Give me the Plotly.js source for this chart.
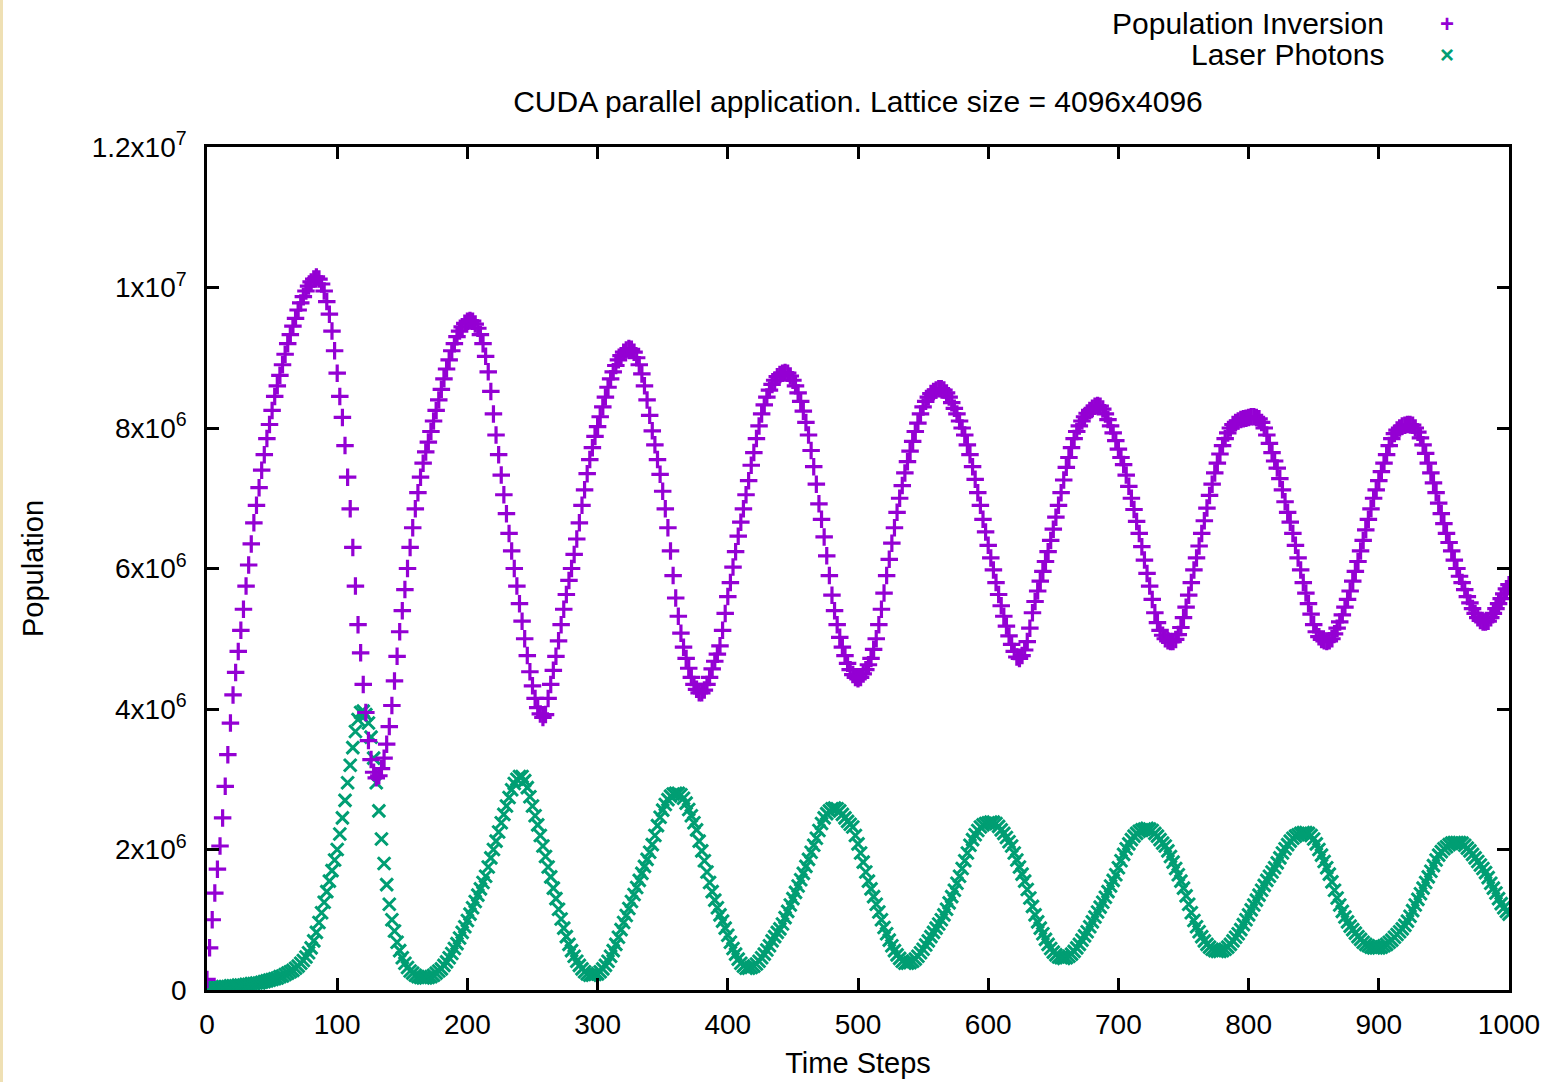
<!DOCTYPE html>
<html>
<head>
<meta charset="utf-8">
<script src="https://cdn.plot.ly/plotly-3.0.1.min.js"></script>
<style>
  html, body { margin: 0; padding: 0; background: #ffffff; }
  body { background: linear-gradient(to right, #EFE0B4 0px, #EFE0B4 3px, #ffffff 3px); }
  #chart { width: 1550px; height: 1082px; }
</style>
</head>
<body>
<div id="chart"></div>
<script>
// ---- Data (values in units of 10^6), one sample every TIME_STEP time steps, from 0 to 1000 ----
const TIME_STEP = 2;
const FIRST_STEP = 0;

const seriesNames = ["Population Inversion", "Laser Photons"];

const populationInversionM = [
  0.15, 0.6, 1.0, 1.38, 1.72, 2.05, 2.45, 2.9, 3.35, 3.8,
  4.2, 4.52, 4.82, 5.12, 5.42, 5.75, 6.05, 6.35, 6.65, 6.9,
  7.15, 7.4, 7.62, 7.85, 8.05, 8.25, 8.45, 8.6, 8.75, 8.9,
  9.05, 9.2, 9.33, 9.45, 9.56, 9.68, 9.78, 9.87, 9.95, 10.02,
  10.08, 10.12, 10.15, 10.12, 10.05, 9.95, 9.8, 9.62, 9.38, 9.1,
  8.78, 8.45, 8.15, 7.75, 7.3, 6.85, 6.3, 5.75, 5.2, 4.8,
  4.35, 3.95, 3.55, 3.28, 3.1, 3.02, 3.05, 3.15, 3.3, 3.5,
  3.75, 4.05, 4.4, 4.75, 5.1, 5.4, 5.7, 6.0, 6.3, 6.58,
  6.85, 7.08, 7.3, 7.5, 7.66, 7.8, 7.95, 8.1, 8.25, 8.4,
  8.55, 8.7, 8.84, 8.97, 9.1, 9.2, 9.3, 9.38, 9.44, 9.49,
  9.52, 9.53, 9.52, 9.48, 9.42, 9.33, 9.2, 9.02, 8.8, 8.52,
  8.2, 7.9, 7.62, 7.33, 7.05, 6.78, 6.5, 6.25, 6.0, 5.75,
  5.5, 5.25, 5.0, 4.76, 4.53, 4.33, 4.15, 4.02, 3.93, 3.88,
  3.92, 4.15, 4.35, 4.55, 4.75, 4.97, 5.2, 5.42, 5.63, 5.83,
  6.0, 6.2, 6.42, 6.65, 6.9, 7.12, 7.35, 7.55, 7.72, 7.88,
  8.02, 8.16, 8.3, 8.44, 8.58, 8.7, 8.8, 8.89, 8.97, 9.03,
  9.08, 9.11, 9.13, 9.12, 9.08, 9.0, 8.9, 8.77, 8.6, 8.4,
  8.18, 7.96, 7.76, 7.55, 7.34, 7.1, 6.85, 6.58, 6.25, 5.9,
  5.58, 5.32, 5.08, 4.88, 4.72, 4.58, 4.45, 4.35, 4.28, 4.23,
  4.23, 4.27, 4.35, 4.45, 4.57, 4.68, 4.78, 4.9, 5.12, 5.36,
  5.6, 5.8, 6.02, 6.24, 6.46, 6.66, 6.85, 7.05, 7.25, 7.47,
  7.65, 7.85, 8.03, 8.2, 8.33, 8.44, 8.54, 8.62, 8.68, 8.73,
  8.76, 8.78, 8.79, 8.78, 8.74, 8.68, 8.6, 8.5, 8.38, 8.24,
  8.08, 7.9, 7.68, 7.45, 7.2, 6.92, 6.7, 6.45, 6.18, 5.9,
  5.62, 5.4, 5.2, 5.02, 4.88, 4.76, 4.65, 4.56, 4.49, 4.45,
  4.43, 4.45, 4.5, 4.56, 4.63, 4.72, 4.85, 5.0, 5.2, 5.42,
  5.65, 5.9, 6.13, 6.36, 6.58, 6.8, 7.0, 7.18, 7.36, 7.52,
  7.67, 7.81, 7.95, 8.07, 8.2, 8.3, 8.38, 8.44, 8.49, 8.52,
  8.54, 8.56, 8.56, 8.54, 8.5, 8.44, 8.36, 8.28, 8.2, 8.1,
  8.0, 7.9, 7.76, 7.62, 7.45, 7.27, 7.08, 6.9, 6.7, 6.52,
  6.33, 6.15, 5.98, 5.8, 5.63, 5.47, 5.32, 5.18, 5.04, 4.92,
  4.82, 4.74, 4.72, 4.76, 4.84, 4.96, 5.15, 5.37, 5.53, 5.68,
  5.82, 5.96, 6.1, 6.24, 6.4, 6.56, 6.73, 6.9, 7.08, 7.26,
  7.44, 7.58, 7.72, 7.85, 7.95, 8.03, 8.1, 8.16, 8.21, 8.25,
  8.28, 8.31, 8.32, 8.31, 8.27, 8.2, 8.12, 8.03, 7.93, 7.82,
  7.7, 7.58, 7.48, 7.33, 7.17, 7.0, 6.84, 6.67, 6.5, 6.31,
  6.12, 5.93, 5.75, 5.56, 5.37, 5.23, 5.12, 5.05, 5.0, 4.97,
  4.96, 4.96, 4.99, 5.06, 5.16, 5.3, 5.45, 5.62, 5.8, 5.98,
  6.15, 6.32, 6.5, 6.68, 6.86, 7.04, 7.2, 7.36, 7.5, 7.63,
  7.75, 7.85, 7.93, 8.0, 8.05, 8.08, 8.1, 8.12, 8.13, 8.14,
  8.15, 8.16, 8.16, 8.15, 8.13, 8.08, 8.0, 7.9, 7.78, 7.65,
  7.53, 7.43, 7.28, 7.12, 6.95, 6.8, 6.66, 6.5, 6.33, 6.15,
  5.98, 5.8, 5.65, 5.5, 5.35, 5.2, 5.1, 5.03, 4.99, 4.97,
  4.96, 4.97, 5.0, 5.07, 5.15, 5.24, 5.34, 5.45, 5.56, 5.68,
  5.82, 5.96, 6.1, 6.25, 6.4, 6.55, 6.7, 6.85, 7.0, 7.12,
  7.25, 7.38, 7.5, 7.62, 7.75, 7.85, 7.92, 7.97, 8.0, 8.03,
  8.04, 8.05, 8.05, 8.04, 8.0, 7.94, 7.86, 7.76, 7.64, 7.5,
  7.36, 7.22, 7.08, 6.93, 6.78, 6.64, 6.5, 6.37, 6.25, 6.12,
  6.0, 5.89, 5.8, 5.7, 5.6, 5.51, 5.43, 5.36, 5.3, 5.26,
  5.24, 5.24, 5.25, 5.3, 5.36, 5.43, 5.5, 5.57, 5.64, 5.71,
  5.77
];

const laserPhotonsM = [
  0.03, 0.03, 0.03, 0.04, 0.04, 0.04, 0.05, 0.05, 0.05, 0.06,
  0.06, 0.06, 0.07, 0.07, 0.07, 0.08, 0.08, 0.09, 0.09, 0.1,
  0.1, 0.11, 0.12, 0.13, 0.14, 0.15, 0.16, 0.17, 0.19, 0.2,
  0.22, 0.24, 0.26, 0.28, 0.31, 0.34, 0.38, 0.42, 0.47, 0.53,
  0.6, 0.7, 0.82, 0.96, 1.1, 1.25, 1.4, 1.55, 1.7, 1.85,
  2.0, 2.22, 2.45, 2.7, 2.95, 3.2, 3.45, 3.68, 3.85, 3.95,
  3.97, 3.92, 3.8, 3.6, 3.3, 2.95, 2.55, 2.15, 1.8, 1.5,
  1.22, 1.0, 0.84, 0.68, 0.56, 0.46, 0.38, 0.32, 0.27, 0.24,
  0.21, 0.19, 0.18, 0.17, 0.17, 0.18, 0.19, 0.21, 0.24, 0.27,
  0.3, 0.35, 0.4, 0.46, 0.52, 0.59, 0.66, 0.74, 0.82, 0.9,
  0.99, 1.08, 1.17, 1.26, 1.35, 1.44, 1.53, 1.62, 1.75, 1.88,
  2.0, 2.12, 2.25, 2.38, 2.5, 2.62, 2.74, 2.85, 2.94, 3.0,
  3.04, 3.04, 2.98, 2.88, 2.75, 2.62, 2.48, 2.35, 2.2, 2.05,
  1.9, 1.75, 1.61, 1.45, 1.3, 1.15, 1.01, 0.88, 0.76, 0.65,
  0.56, 0.48, 0.41, 0.35, 0.3, 0.26, 0.23, 0.21, 0.21, 0.22,
  0.23, 0.26, 0.3, 0.35, 0.41, 0.48, 0.56, 0.65, 0.75, 0.86,
  0.96, 1.06, 1.16, 1.26, 1.36, 1.46, 1.56, 1.66, 1.76, 1.86,
  1.96, 2.07, 2.2, 2.34, 2.46, 2.56, 2.64, 2.71, 2.76, 2.79,
  2.8, 2.8, 2.78, 2.73, 2.66, 2.57, 2.48, 2.38, 2.28, 2.12,
  1.98, 1.84, 1.68, 1.53, 1.4, 1.28, 1.17, 1.07, 0.98, 0.88,
  0.78, 0.68, 0.59, 0.51, 0.44, 0.38, 0.34, 0.31, 0.31, 0.32,
  0.34, 0.37, 0.41, 0.46, 0.51, 0.57, 0.63, 0.7, 0.76, 0.82,
  0.87, 0.94, 1.03, 1.12, 1.21, 1.3, 1.39, 1.48, 1.57, 1.66,
  1.76, 1.86, 1.96, 2.06, 2.16, 2.27, 2.37, 2.45, 2.51, 2.55,
  2.58, 2.59, 2.58, 2.55, 2.5, 2.45, 2.4, 2.36, 2.32, 2.2,
  2.08, 1.95, 1.82, 1.68, 1.55, 1.44, 1.33, 1.22, 1.11, 1.0,
  0.89, 0.8, 0.71, 0.63, 0.56, 0.5, 0.45, 0.41, 0.38, 0.38,
  0.39, 0.41, 0.44, 0.48, 0.53, 0.58, 0.64, 0.7, 0.76, 0.82,
  0.88, 0.94, 1.0, 1.07, 1.15, 1.24, 1.33, 1.42, 1.52, 1.62,
  1.73, 1.84, 1.95, 2.06, 2.14, 2.21, 2.27, 2.32, 2.35, 2.37,
  2.38, 2.39, 2.39, 2.37, 2.33, 2.28, 2.23, 2.17, 2.11, 2.05,
  1.95, 1.85, 1.75, 1.65, 1.55, 1.43, 1.31, 1.19, 1.07, 0.97,
  0.88, 0.8, 0.72, 0.65, 0.59, 0.54, 0.5, 0.47, 0.46, 0.45,
  0.46, 0.48, 0.51, 0.55, 0.6, 0.65, 0.71, 0.77, 0.83, 0.9,
  0.97, 1.04, 1.11, 1.18, 1.25, 1.32, 1.4, 1.48, 1.56, 1.64,
  1.74, 1.84, 1.93, 2.01, 2.08, 2.14, 2.19, 2.23, 2.26, 2.28,
  2.29, 2.3, 2.29, 2.27, 2.23, 2.19, 2.14, 2.09, 2.05, 1.98,
  1.9, 1.82, 1.73, 1.64, 1.55, 1.45, 1.34, 1.22, 1.1, 0.99,
  0.9, 0.83, 0.76, 0.7, 0.65, 0.61, 0.58, 0.56, 0.55, 0.55,
  0.56, 0.58, 0.61, 0.65, 0.7, 0.75, 0.8, 0.86, 0.93, 1.0,
  1.07, 1.14, 1.21, 1.28, 1.35, 1.42, 1.49, 1.56, 1.62, 1.68,
  1.74, 1.81, 1.88, 1.95, 2.01, 2.07, 2.12, 2.16, 2.19, 2.21,
  2.23, 2.24, 2.24, 2.23, 2.2, 2.15, 2.08, 2.0, 1.92, 1.83,
  1.74, 1.65, 1.54, 1.42, 1.31, 1.21, 1.12, 1.04, 0.97, 0.91,
  0.86, 0.81, 0.76, 0.72, 0.68, 0.65, 0.63, 0.61, 0.6, 0.6,
  0.6, 0.61, 0.63, 0.65, 0.68, 0.71, 0.75, 0.79, 0.83, 0.87,
  0.92, 0.98, 1.05, 1.13, 1.21, 1.29, 1.37, 1.45, 1.53, 1.61,
  1.69, 1.77, 1.85, 1.92, 1.97, 2.01, 2.04, 2.07, 2.09, 2.1,
  2.1, 2.1, 2.09, 2.06, 2.02, 1.98, 1.93, 1.88, 1.83, 1.78,
  1.73, 1.67, 1.6, 1.52, 1.45, 1.38, 1.3, 1.23, 1.17, 1.12,
  1.08
];

const xTickVals = [0, 100, 200, 300, 400, 500, 600, 700, 800, 900, 1000];
const yTickValsM = [0, 2, 4, 6, 8, 10, 12];
const yTickText = ["0", "2x10<sup>6</sup>", "4x10<sup>6</sup>", "6x10<sup>6</sup>",
                   "8x10<sup>6</sup>", "1x10<sup>7</sup>", "1.2x10<sup>7</sup>"];

const chartTitle = "CUDA parallel application. Lattice size = 4096x4096";
const xTitle = "Time Steps";
const yTitle = "Population";

// ---- Styles ----
const PURPLE = "#9400D3";
const GREEN = "#009E73";
const FONT = "Liberation Sans, Arial, Helvetica, sans-serif";

const traces = [
  {
    type: "scatter", mode: "markers", name: seriesNames[1],
    x0: FIRST_STEP, dx: TIME_STEP, y: laserPhotonsM,
    marker: { symbol: "x-thin", size: 12.5, color: GREEN, line: { color: GREEN, width: 3 } },
    showlegend: false, hoverinfo: "x+y+name"
  },
  {
    type: "scatter", mode: "markers", name: seriesNames[0],
    x0: FIRST_STEP, dx: TIME_STEP, y: populationInversionM,
    marker: { symbol: "cross-thin", size: 12.5, color: PURPLE, line: { color: PURPLE, width: 3.2 } },
    showlegend: false, hoverinfo: "x+y+name"
  }
];

const axisCommon = {
  showgrid: false, zeroline: false,
  showline: true, linecolor: "#000", linewidth: 2.5,
  mirror: "ticks", ticks: "inside", ticklen: 12, tickwidth: 2.5, tickcolor: "#000",
  tickfont: { family: FONT, size: 28, color: "#000" }
};

const layout = {
  width: 1550, height: 1082,
  margin: { l: 207, r: 41, t: 147, b: 92, pad: 0 },
  paper_bgcolor: "rgba(0,0,0,0)",
  plot_bgcolor: "#ffffff",
  font: { family: FONT, size: 28, color: "#000" },
  showlegend: false,
  title: {
    text: chartTitle,
    font: { family: FONT, size: 30, color: "#000" },
    xref: "paper", x: 0.5, xanchor: "center",
    yref: "container", y: 1 - 101 / 1082, yanchor: "middle"
  },
  xaxis: Object.assign({}, axisCommon, {
    range: [0, 1000],
    tickmode: "array", tickvals: xTickVals,
    ticklabelstandoff: 8,
    title: { text: xTitle, font: { family: FONT, size: 29, color: "#000" }, standoff: 14 },
    automargin: false
  }),
  yaxis: Object.assign({}, axisCommon, {
    range: [0, 12],
    tickmode: "array", tickvals: yTickValsM, ticktext: yTickText,
    ticklabelstandoff: 12,
    title: { text: yTitle, font: { family: FONT, size: 29, color: "#000" }, standoff: 40 },
    automargin: false
  }),
  annotations: [
    { xref: "paper", yref: "paper", x: (1386 - 207) / 1302, y: (990 - 23) / 843,
      xanchor: "right", yanchor: "middle", showarrow: false,
      text: seriesNames[0], font: { family: FONT, size: 30, color: "#000" } },
    { xref: "paper", yref: "paper", x: (1386 - 207) / 1302, y: (990 - 55) / 843,
      xanchor: "right", yanchor: "middle", showarrow: false,
      text: seriesNames[1], font: { family: FONT, size: 30, color: "#000" } },
    { xref: "paper", yref: "paper", x: (1447 - 207) / 1302, y: (990 - 24) / 843,
      xanchor: "center", yanchor: "middle", showarrow: false,
      text: "<b>+</b>", font: { family: FONT, size: 24, color: PURPLE } },
    { xref: "paper", yref: "paper", x: (1447 - 207) / 1302, y: (990 - 55) / 843,
      xanchor: "center", yanchor: "middle", showarrow: false,
      text: "<b>\u00D7</b>", font: { family: FONT, size: 24, color: GREEN } }
  ]
};

Plotly.newPlot("chart", traces, layout, { displayModeBar: false, responsive: false });
</script>
</body>
</html>
